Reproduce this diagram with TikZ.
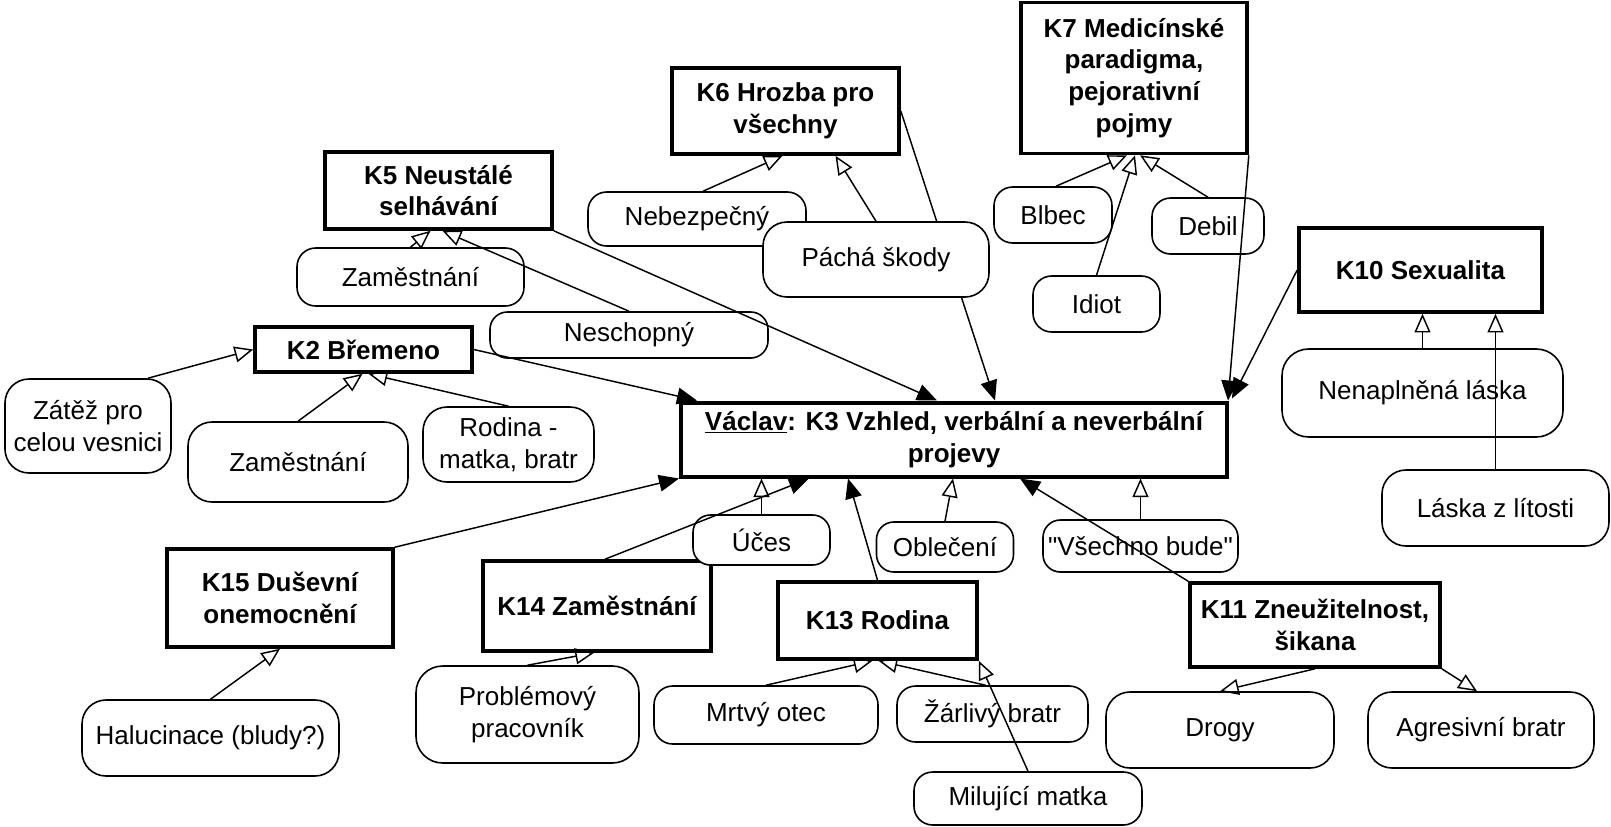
\documentclass[tikz,border=0pt]{standalone}
\usepackage{fontspec}
\setmainfont{Liberation Sans}
\usetikzlibrary{arrows.meta,calc,backgrounds}

\newcommand{\popisek}{\fontsize{19.5}{23.8}\selectfont}

\tikzset{
  kbox/.style={draw, line width=2.7pt, fill=white, font=\popisek\bfseries, align=center, inner sep=1pt},
  pojem/.style={draw, line width=1.2pt, fill=white, rounded corners=#1, font=\popisek, align=center, inner sep=1pt},
  pojem/.default=13pt,
  sz/.style 2 args={minimum width=#1*0.75pt, minimum height=#2*0.75pt},
  otevrena/.style={line width=1.1pt, -{Triangle[open,length=14pt,width=12pt]}},
  plna/.style={line width=1.1pt, -{Triangle[length=15pt,width=12.5pt]}},
}

\begin{document}
\begin{tikzpicture}[x=0.75pt,y=0.75pt,yscale=-1,xscale=1]
				\useasboundingbox (0,0) rectangle (1611,826); %set diagram to the size of the reference

				% Text Node
				\draw (785.5,111) node [kbox] [sz={227}{86}] (k6) {K6 Hrozba pro\\všechny};
				% Text Node
				\draw (1134,78) node [kbox] [sz={226}{151}] (k7) {K7 Medicínské\\paradigma,\\pejorativní\\pojmy};
				% Text Node
				\draw (438.5,190.5) node [kbox] [sz={227}{77}] (k5) {K5 Neustálé\\selhávání};
				% Text Node
				\draw (363.5,349.5) node [kbox] [sz={217}{45}] (k2) {K2 Břemeno};
				% Text Node
				\draw (1420.5,270) node [kbox] [sz={243}{84}] (k10) {K10 Sexualita};
				% Text Node
				\draw (954,439.5) node [kbox] [sz={546}{74}] [line width=3pt] (vaclav) {\underline{Václav}: K3 Vzhled, verbální a neverbální\\projevy};
				% Text Node
				\draw (280,598) node [kbox] [sz={226}{98}] (k15) {K15 Duševní\\onemocnění};
				% Text Node
				\draw (597,606) node [kbox] [sz={228}{90}] (k14) {K14 Zaměstnání};
				% Text Node
				\draw (877.5,620.5) node [kbox] [sz={199}{77}] (k13) {K13 Rodina};
				% Text Node
				\draw (1315,625) node [kbox] [sz={250}{84}] (k11) {K11 Zneužitelnost,\\šikana};

				% Text Node
				\draw (88,426) node [pojem=18pt] [sz={166}{94}] (zatez) {Zátěž pro\\celou vesnici};
				% Text Node
				\draw (298,462) node [pojem=18pt] [sz={220}{80}] (zam2) {Zaměstnání};
				% Text Node
				\draw (508.5,444.5) node [pojem=18pt] [sz={171}{75}] (rodina) {Rodina -\\matka, bratr};
				% Text Node
				\draw (410.5,277) node [pojem=14pt] [sz={227}{58}] (zam5) {Zaměstnání};
				% Text Node
				\draw (629,335) node [pojem] [sz={278}{46}] (neschop) {Neschopný};
				% Text Node
				\draw (697,219) node [pojem=14pt] [sz={218}{54}] (nebezp) {Nebezpečný};
				% Text Node
				\draw (876,259.5) node [pojem=18pt] [sz={226}{75}] (pacha) {Páchá škody};
				% Text Node
				\draw (1053,215) node [pojem=14pt] [sz={118}{56}] (blbec) {Blbec};
				% Text Node
				\draw (1208,226) node [pojem=14pt] [sz={112}{56}] (debil) {Debil};
				% Text Node
				\draw (1096.5,304) node [pojem=14pt] [sz={127}{56}] (idiot) {Idiot};
				% Text Node
				\draw (1422.5,393) node [pojem=20pt] [sz={281}{88}] (nenapl) {Nenaplněná láska};
				% Text Node
				\draw (1495.5,508) node [pojem=18pt] [sz={227}{76}] (lasklit) {Láska z lítosti};
				% Text Node
				\draw (761.5,540) node [pojem] [sz={137}{50}] (uces) {Účes};
				% Text Node
				\draw (945,547) node [pojem] [sz={137}{50}] (obleceni) {Oblečení};
				% Text Node
				\draw (1140.5,546) node [pojem] [sz={195}{52}] (vsechno) {\textquotedbl Všechno bude\textquotedbl};
				% Text Node
				\draw (527.5,714.5) node [pojem=20pt] [sz={223}{97}] (problem) {Problémový\\pracovník};
				% Text Node
				\draw (210.5,738) node [pojem=18pt] [sz={257}{76}] (haluc) {Halucinace (bludy?)};
				% Text Node
				\draw (766,715) node [pojem=14pt] [sz={224}{58}] (otec) {Mrtvý otec};
				% Text Node
				\draw (992.5,714) node [pojem=14pt] [sz={191}{56}] (zarliv) {Žárlivý bratr};
				% Text Node
				\draw (1028,798.5) node [pojem=14pt] [sz={228}{53}] (milujici) {Milující matka};
				% Text Node
				\draw (1220,730) node [pojem=18pt] [sz={228}{76}] (drogy) {Drogy};
				% Text Node
				\draw (1481,730) node [pojem=18pt] [sz={226}{76}] (agres) {Agresivní bratr};

				%Straight Lines (hidden behind Páchá škody)
				\begin{pgfonlayer}{background}
				\draw [plna] (k6.east) -- ($(vaclav.north)+(41,0)$) ;
				\end{pgfonlayer}

				%Straight Lines
				\draw [plna] (k2.east) -- ($(vaclav.north west)+(18,0)$) ;
				%Straight Lines
				\draw [plna] (k5.south east) -- ($(vaclav.north)+(-17,0)$) ;
				%Straight Lines
				\draw [plna] (k7.south east) -- ($(vaclav.north east)+(-1,0)$) ;
				%Straight Lines
				\draw [plna] (k10.west) -- ($(vaclav.north east)+(3,-2)$) ;
				%Straight Lines
				\draw [plna] (k15.north east) -- (vaclav.south west) ;
				%Straight Lines
				\draw [plna] ($(k14.north)+(8,0)$) -- ($(vaclav.south west)+(130,0)$) ;
				%Straight Lines
				\draw [plna] (k13.north) -- ($(vaclav.south west)+(169,0)$) ;
				%Straight Lines
				\draw [plna] (k11.north west) -- ($(vaclav.south)+(66,0)$) ;

				%Straight Lines
				\draw [otevrena] ($(zatez.north)+(60,0)$) -- (k2.west) ;
				%Straight Lines
				\draw [otevrena] (zam2.north) -- ($(k2.south)+(-1,0)$) ;
				%Straight Lines
				\draw [otevrena] (rodina.north) -- ($(k2.south)+(5,0)$) ;
				%Straight Lines
				\draw [otevrena] (zam5.north) -- ($(k5.south)+(-8,0)$) ;
				%Straight Lines
				\draw [otevrena] (neschop.north) -- ($(k5.south)+(4,0)$) ;
				%Straight Lines
				\draw [otevrena] ($(nebezp.north)+(6,0)$) -- ($(k6.south)+(-3,0)$) ;
				%Straight Lines
				\draw [otevrena] (pacha.north) -- ($(k6.south)+(50,0)$) ;
				%Straight Lines
				\draw [otevrena] ($(blbec.north)+(3,0)$) -- ($(k7.south)+(-7,0)$) ;
				%Straight Lines
				\draw [otevrena] (idiot.north) -- ($(k7.south)+(1,0)$) ;
				%Straight Lines
				\draw [otevrena] (debil.north) -- ($(k7.south)+(6,0)$) ;
				%Straight Lines
				\draw [otevrena] (nenapl.north) -- (nenapl.north |- k10.south) ;
				%Straight Lines
				\draw [otevrena] (lasklit.north) -- (lasklit.north |- k10.south) ;
				%Straight Lines
				\draw [otevrena] (uces.north) -- (uces.north |- vaclav.south) ;
				%Straight Lines
				\draw [otevrena] (obleceni.north) -- ($(vaclav.south)+(-1,0)$) ;
				%Straight Lines
				\draw [otevrena] (vsechno.north) -- (vsechno.north |- vaclav.south) ;
				%Straight Lines
				\draw [otevrena] (problem.north) -- ($(k14.south)+(-3,0)$) ;
				%Straight Lines
				\draw [otevrena] (haluc.north) -- (k15.south) ;
				%Straight Lines
				\draw [otevrena] (otec.north) -- ($(k13.south)+(-5,0)$) ;
				%Straight Lines
				\draw [otevrena] ($(zarliv.north)+(-7,0)$) -- ($(k13.south)+(1,0)$) ;
				%Straight Lines
				\draw [otevrena] (milujici.north) -- (k13.south east) ;
				%Straight Lines
				\draw [otevrena] (k11.south) -- (drogy.north) ;
				%Straight Lines
				\draw [otevrena] (k11.south east) -- ($(agres.north)+(-4,0)$) ;

\end{tikzpicture}
\end{document}
